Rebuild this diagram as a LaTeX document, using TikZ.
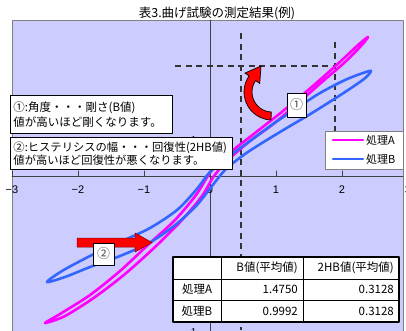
\documentclass[tikz,border=0pt]{standalone}
\usepackage{fontspec}
\setmainfont{Noto Sans CJK JP}
\newfontfamily\numfont{Liberation Sans}
\definecolor{plotbg}{RGB}{204,204,255}
\definecolor{loopA}{RGB}{255,0,255}
\definecolor{loopB}{RGB}{51,102,255}
\tikzset{
	txtbox/.style={draw=black, fill=white, line width=0.9pt, anchor=north west, align=left, inner xsep=3pt},
	numbox/.style={draw=black, fill=white, line width=0.8pt, text=black!70, font=\fontsize{13}{13}\selectfont, inner sep=1pt},
	redarrow/.style={fill=red, draw=black, line width=0.7pt, line join=miter},
	cell/.style={font=\fontsize{11.5}{12}\selectfont, inner sep=0pt},
	guide/.style={black!80, line width=1.3pt, dash pattern=on 6pt off 4.5pt, line cap=butt}
}
\begin{document}
\begin{tikzpicture}[x=1pt, y=-1pt, line join=round, line cap=round, font=\fontsize{11}{13}\selectfont]
	\useasboundingbox (0,0) rectangle (406,330);
	\clip (0,0) rectangle (406,330);
	\node (title) at (217,13) {\fontsize{12.5}{14}\selectfont 表3.曲げ試験の測定結果(例)};
	\draw[gray, fill=plotbg] (12,20) rectangle (403,340);
	\draw[black!75, line width=0.8pt] (12,176) -- (403,176) (210,20) -- (210,340);
	\foreach \k/\t in {-3/−3, -2/−2, -1/−1, 0/0, 1/1, 2/2, 3/3}{
		\draw[black!75, line width=0.8pt] ({210+66*\k},176) -- ({210+66*\k},171);
		\node[font=\numfont\fontsize{11}{12}\selectfont] (xl\t) at ({210+66*\k},190) {\t};
	}
	\node[font=\numfont\fontsize{10}{12}\selectfont, anchor=east] (yl1) at (200,140) {1};
	\node[font=\numfont\fontsize{10}{12}\selectfont, anchor=east] (ylm1) at (200,332) {−1};
	\draw[guide] (241,33) -- (241,330) (175,66) -- (335,66) (335,42) -- (335,131);
	\draw[loopA, line width=2.6pt] plot[smooth cycle] coordinates {(45,323) (60,314) (90,295) (120,271) (150,243) (175,220) (196,195) (212,170) (232,151) (255,133) (278,115) (300,97) (322,78) (342,60) (358,45) (368,37) (361,46) (344,63) (322,82) (297,104) (272,125) (250,141) (228,160) (214,176) (202,196) (182,220) (155,247) (125,274) (95,297) (65,316)};
	\draw[loopB, line width=2.6pt] plot[smooth cycle] coordinates {(47,282) (62,271) (90,256) (120,242) (150,228) (177,210) (196,190) (210,172) (228,157) (250,141) (273,124) (297,108) (320,93) (345,80) (363,73) (371,71) (364,79) (342,94) (312,113) (285,129) (262,143) (245,154) (226,169) (212,186) (196,206) (174,226) (149,243) (120,256) (90,267) (65,277)};
	\node[txtbox, minimum width=162pt, minimum height=38pt, text width=156pt, font=\fontsize{11.5}{15}\selectfont] (note1) at (10,95) {①:角度・・・剛さ(B値)\\値が高いほど剛くなります。};
	\node[txtbox, minimum width=222pt, minimum height=32pt, text width=216pt, font=\fontsize{11.3}{13}\selectfont] (note2) at (10,137) {②:ヒステリシスの幅・・・回復性(2HB値)\\値が高いほど回復性が悪くなります。};
	\begin{scope}[shift={(272,92)}]
		\draw[redarrow] (92:28) arc[start angle=92, end angle=215, radius=28] -- (215:33) -- (-11,-26) -- (215:15) -- (215:20) arc[start angle=215, end angle=92, radius=20] -- cycle;
	\end{scope}
	\draw[redarrow, draw=red!50!black, line width=0.5pt] (77,238) -- (135,238) -- (135,233) -- (152,242.5) -- (135,252) -- (135,247) -- (77,247) -- cycle;
	\node[numbox, minimum width=19pt, minimum height=24pt] (one) at (296.5,105) {①};
	\node[numbox, minimum width=21pt, minimum height=22pt] (two) at (103.5,254) {②};
	\node[draw=gray, fill=white, minimum width=78pt, minimum height=38pt, anchor=north west] (legend) at (325,131) {};
	\draw[loopA, line width=2.6pt] (333,140) -- (363,140);
	\node[anchor=west, inner sep=0pt] (legA) at (366,140) {処理A};
	\draw[loopB, line width=2.6pt] (333,159) -- (363,159);
	\node[anchor=west, inner sep=0pt] (legB) at (366,159) {処理B};
	\draw[fill=white, line width=1.2pt] (173,257) rectangle (399,322);
	\draw[line width=0.7pt] (173,279) -- (399,279) (173,300) -- (399,300) (221,257) -- (221,322) (303,257) -- (303,322);
	\node[cell, anchor=east] (hB) at (298,268) {B値(平均値)};
	\node[cell, anchor=east] (hHB) at (394,268) {2HB値(平均値)};
	\node[cell] (rA) at (197,289.5) {処理A};
	\node[cell, anchor=east] (bA) at (298,289.5) {1.4750};
	\node[cell, anchor=east] (hbA) at (394,289.5) {0.3128};
	\node[cell] (rB) at (197,311) {処理B};
	\node[cell, anchor=east] (bB) at (298,311) {0.9992};
	\node[cell, anchor=east] (hbB) at (394,311) {0.3128};
\end{tikzpicture}
\end{document}
